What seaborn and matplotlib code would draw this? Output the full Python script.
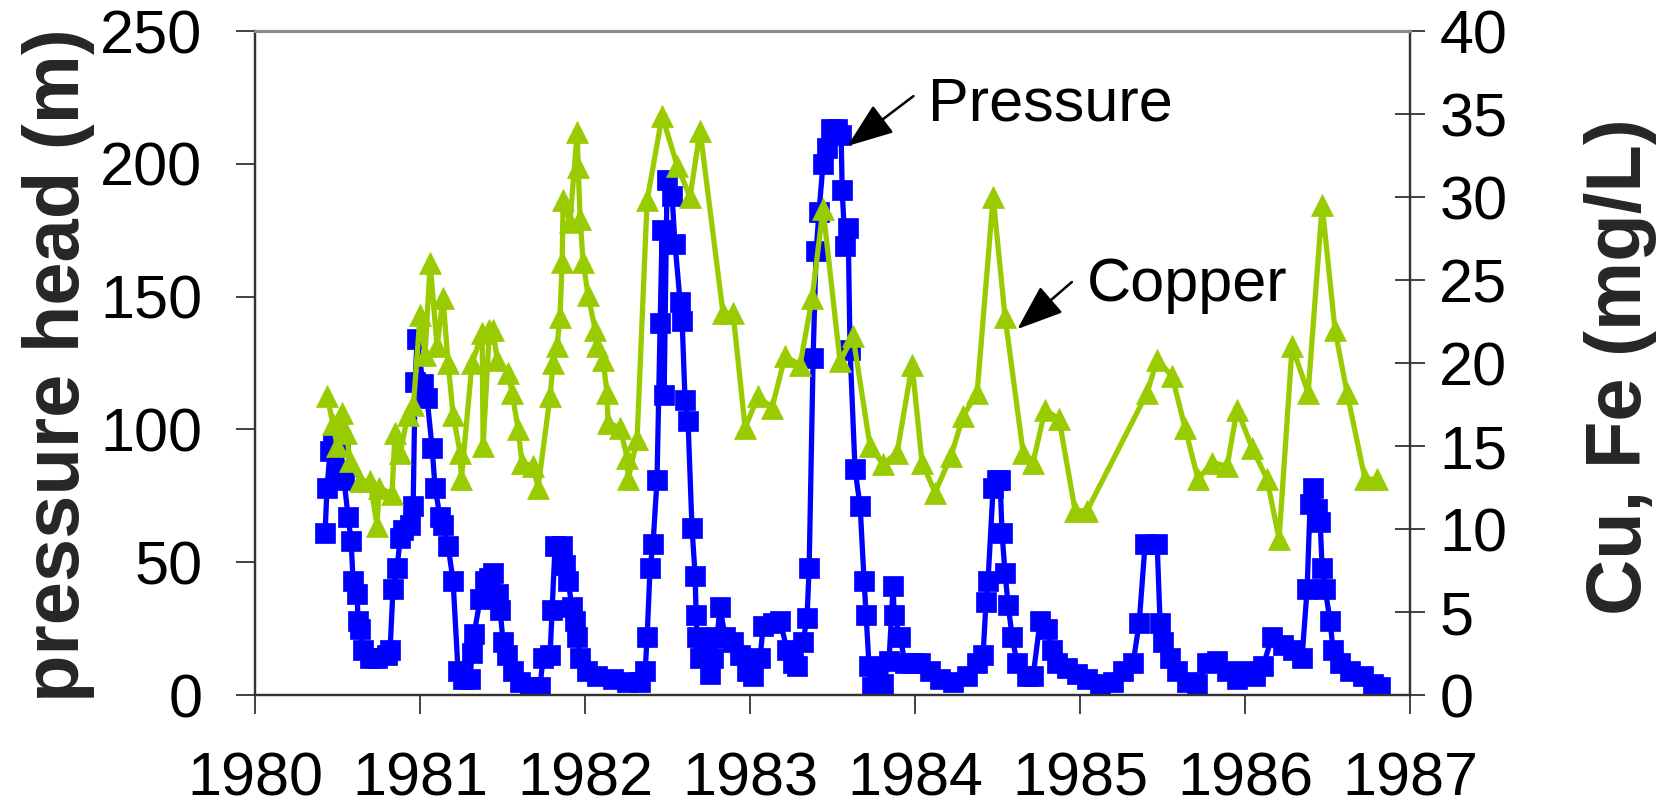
import matplotlib
matplotlib.use("Agg")
import matplotlib.pyplot as plt
import pandas as pd
import seaborn as sns

# ---------------- data ----------------
pressure_year = [
    1980.424, 1980.436, 1980.455, 1980.473, 1980.497, 1980.515, 1980.539, 1980.564,
    1980.582, 1980.594, 1980.618, 1980.624, 1980.636, 1980.655, 1980.697, 1980.739,
    1980.800, 1980.818, 1980.836, 1980.861, 1980.879, 1980.897, 1980.939, 1980.958,
    1980.970, 1980.982, 1981.018, 1981.042, 1981.073, 1981.091, 1981.121, 1981.139,
    1981.170, 1981.200, 1981.230, 1981.261, 1981.303, 1981.315, 1981.327, 1981.364,
    1981.394, 1981.418, 1981.442, 1981.473, 1981.485, 1981.503, 1981.527, 1981.564,
    1981.606, 1981.667, 1981.727, 1981.745, 1981.788, 1981.800, 1981.818, 1981.861,
    1981.879, 1981.897, 1981.921, 1981.939, 1981.952, 1981.970, 1982.012, 1982.073,
    1982.170, 1982.255, 1982.333, 1982.364, 1982.376, 1982.394, 1982.412, 1982.436,
    1982.455, 1982.467, 1982.479, 1982.497, 1982.527, 1982.545, 1982.576, 1982.588,
    1982.606, 1982.624, 1982.648, 1982.667, 1982.673, 1982.679, 1982.697, 1982.715,
    1982.758, 1982.776, 1982.800, 1982.818, 1982.848, 1982.897, 1982.939, 1982.982,
    1983.018, 1983.061, 1983.079, 1983.139, 1983.182, 1983.224, 1983.261, 1983.285,
    1983.321, 1983.345, 1983.358, 1983.382, 1983.400, 1983.418, 1983.442, 1983.467,
    1983.491, 1983.527, 1983.552, 1983.558, 1983.576, 1983.594, 1983.606, 1983.636,
    1983.667, 1983.691, 1983.703, 1983.721, 1983.739, 1983.770, 1983.806, 1983.842,
    1983.867, 1983.873, 1983.909, 1983.939, 1983.982, 1984.030, 1984.091, 1984.152,
    1984.230, 1984.315, 1984.376, 1984.412, 1984.430, 1984.442, 1984.473, 1984.497,
    1984.515, 1984.527, 1984.545, 1984.564, 1984.588, 1984.618, 1984.679, 1984.715,
    1984.758, 1984.800, 1984.830, 1984.861, 1984.921, 1984.982, 1985.042, 1985.121,
    1985.200, 1985.261, 1985.321, 1985.358, 1985.394, 1985.467, 1985.485, 1985.503,
    1985.545, 1985.588, 1985.648, 1985.709, 1985.770, 1985.830, 1985.891, 1985.952,
    1986.012, 1986.061, 1986.109, 1986.164, 1986.230, 1986.291, 1986.345, 1986.376,
    1986.394, 1986.412, 1986.436, 1986.455, 1986.467, 1986.485, 1986.515, 1986.533,
    1986.576, 1986.636, 1986.715, 1986.776, 1986.818,
]
pressure_head = [
    61, 78, 92, 95, 84, 96, 81, 67,
    58, 43, 38, 28, 25, 17, 14, 14,
    15, 17, 40, 48, 59, 62, 64, 71,
    118, 134, 117, 112, 93, 78, 67, 64,
    56, 43, 9, 6, 6, 16, 23, 36,
    43, 44, 46, 38, 32, 20, 15, 9,
    5, 3, 3, 14, 15, 32, 56, 56,
    49, 43, 33, 28, 22, 14, 9, 7,
    6, 5, 5, 9, 22, 48, 57, 81,
    140, 175, 113, 194, 188, 170, 148, 141,
    111, 103, 63, 45, 30, 22, 14, 19,
    8, 14, 22, 33, 22, 20, 15, 9,
    7, 14, 26, 27, 28, 17, 12, 11,
    20, 29, 48, 127, 167, 182, 200, 206,
    213, 213, 211, 190, 169, 176, 130, 85,
    71, 43, 30, 11, 3, 6, 4, 13,
    41, 30, 22, 12, 12, 12, 9, 6,
    5, 7, 12, 15, 35, 43, 78, 81,
    81, 61, 46, 34, 22, 12, 7, 7,
    28, 25, 17, 12, 10, 8, 6, 4,
    5, 9, 12, 27, 57, 57, 27, 20,
    14, 9, 5, 4, 12, 13, 9, 6,
    9, 7, 11, 22, 19, 17, 14, 40,
    72, 78, 70, 65, 48, 40, 28, 17,
    12, 9, 7, 4, 3,
]

copper_year = [
    1980.436, 1980.473, 1980.497, 1980.527, 1980.552, 1980.576, 1980.636, 1980.697,
    1980.739, 1980.752, 1980.830, 1980.848, 1980.879, 1980.927, 1980.960, 1981.000,
    1981.030, 1981.061, 1981.103, 1981.139, 1981.170, 1981.200, 1981.242, 1981.250,
    1981.315, 1981.376, 1981.382, 1981.420, 1981.442, 1981.467, 1981.533, 1981.558,
    1981.594, 1981.618, 1981.685, 1981.715, 1981.788, 1981.806, 1981.830, 1981.848,
    1981.861, 1981.867, 1981.909, 1981.952, 1981.958, 1981.970, 1981.988, 1982.018,
    1982.061, 1982.073, 1982.109, 1982.133, 1982.139, 1982.212, 1982.255, 1982.261,
    1982.315, 1982.376, 1982.467, 1982.558, 1982.636, 1982.697, 1982.836, 1982.897,
    1982.970, 1983.048, 1983.133, 1983.212, 1983.303, 1983.376, 1983.442, 1983.545,
    1983.624, 1983.727, 1983.806, 1983.891, 1983.982, 1984.042, 1984.121, 1984.218,
    1984.291, 1984.376, 1984.473, 1984.545, 1984.655, 1984.715, 1984.788, 1984.873,
    1984.970, 1985.042, 1985.406, 1985.467, 1985.558, 1985.636, 1985.715, 1985.800,
    1985.891, 1985.952, 1986.042, 1986.133, 1986.206, 1986.285, 1986.382, 1986.467,
    1986.545, 1986.618, 1986.727, 1986.800,
]
copper_conc = [
    18.0, 16.3, 15.0, 17.0, 15.8, 14.1, 12.9, 12.9,
    10.2, 12.5, 12.1, 15.8, 14.6, 16.9, 17.5, 22.9,
    20.5, 26.0, 21.0, 23.9, 20.0, 16.9, 14.6, 13.0,
    20.0, 21.8, 15.0, 22.0, 22.0, 20.2, 19.4, 18.2,
    16.0, 14.0, 13.8, 12.5, 18.0, 20.0, 21.0, 22.8,
    26.1, 29.8, 28.5, 33.9, 31.8, 28.7, 26.1, 24.1,
    22.0, 21.0, 20.2, 18.2, 16.4, 16.1, 14.3, 13.0,
    15.4, 29.8, 34.9, 31.9, 30.0, 34.0, 23.0, 23.0,
    16.1, 18.0, 17.3, 20.4, 19.9, 23.9, 29.3, 20.1,
    21.6, 15.0, 13.9, 14.6, 19.9, 14.0, 12.2, 14.4,
    16.8, 18.2, 30.0, 22.8, 14.6, 14.0, 17.2, 16.6,
    11.1, 11.1, 18.2, 20.2, 19.2, 16.1, 13.0, 14.0,
    13.8, 17.2, 14.9, 13.0, 9.4, 21.0, 18.2, 29.5,
    22.0, 18.2, 13.0, 13.0,
]

year_ticks = [1980, 1981, 1982, 1983, 1984, 1985, 1986, 1987]
head_ticks = [0, 50, 100, 150, 200, 250]
cu_ticks = [0, 5, 10, 15, 20, 25, 30, 35, 40]

# ---------------- style ----------------
sns.set_style("ticks")
plt.rcParams["font.family"] = ["Liberation Sans", "DejaVu Sans"]

BLUE = "#0000FF"
GREEN = "#99CC00"
FS = 44

fig = plt.figure(figsize=(16.65, 8.11), dpi=100)
ax = fig.add_axes([0.1532, 0.1430, 0.6937, 0.8187])
ax2 = ax.twinx()

dfp = pd.DataFrame({"year": pressure_year, "head": pressure_head})
dfc = pd.DataFrame({"year": copper_year, "cu": copper_conc})

sns.lineplot(data=dfp, x="year", y="head", ax=ax, color=BLUE, linewidth=3.8,
             marker="s", markersize=14, markeredgewidth=0.5, markeredgecolor=BLUE,
             estimator=None, sort=False, legend=False)
sns.lineplot(data=dfc, x="year", y="cu", ax=ax2, color=GREEN, linewidth=3.8,
             marker="^", markersize=16.5, markeredgewidth=0.5, markeredgecolor=GREEN,
             estimator=None, sort=False, legend=False)

ax.set_xlim(1980, 1987)
ax.set_ylim(0, 250)
ax2.set_ylim(0, 40)
ax.set_xticks(year_ticks)
ax.set_xticklabels([str(y) for y in year_ticks])
ax.set_yticks(head_ticks)
ax.set_yticklabels([str(v) for v in head_ticks])
ax2.set_yticks(cu_ticks)
ax2.set_yticklabels([str(v) for v in cu_ticks])

ax.tick_params(axis="y", direction="out", length=14, width=1.2, colors="#222222",
               labelsize=FS, pad=24, labelcolor="black")
ax.tick_params(axis="x", direction="out", length=14, width=1.2, colors="#222222",
               labelsize=FS, pad=27, labelcolor="black")
ax2.tick_params(axis="y", direction="inout", length=22, width=1.2, colors="#222222",
                labelsize=FS, pad=10, labelcolor="black")

for a in (ax, ax2):
    for side in ("left", "right", "bottom"):
        a.spines[side].set_visible(True)
        a.spines[side].set_color("#333333")
        a.spines[side].set_linewidth(1.6)
    a.spines["top"].set_visible(True)
    a.spines["top"].set_color("#8c8c8c")
    a.spines["top"].set_linewidth(2.2)

ax.set_xlabel("")
ax.set_ylabel("pressure head (m)", fontsize=56, fontweight="bold")
ax2.set_ylabel("Cu, Fe (mg/L)", fontsize=56, fontweight="bold")
ax.yaxis.set_label_coords(-0.1706, 0.497)
ax.yaxis.label.set_verticalalignment("center")
ax2.yaxis.set_label_coords(1.1818, 0.495)
ax2.yaxis.label.set_verticalalignment("center")

# annotations (pressure-axis coordinates)
arrow_kw = dict(arrowstyle="-|>,head_length=0.8,head_width=0.3", color="black",
                lw=1.8, mutation_scale=36, shrinkA=0, shrinkB=0)
ax.annotate("", xy=(1983.59, 206.7), xytext=(1983.99, 225.5), arrowprops=arrow_kw,
            annotation_clip=False)
ax.text(1984.08, 216.2, "Pressure", fontsize=FS, ha="left", va="baseline", color="black")
ax.annotate("", xy=(1984.62, 137.8), xytext=(1984.95, 155.5), arrowprops=arrow_kw,
            annotation_clip=False)
ax.text(1985.04, 148.3, "Copper", fontsize=FS, ha="left", va="baseline", color="black")

fig.savefig("out.png", dpi=100)
